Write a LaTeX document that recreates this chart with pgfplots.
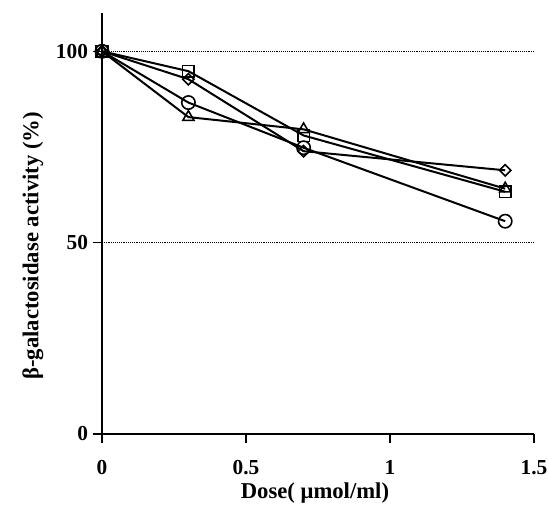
\documentclass[border=0pt]{standalone}
\usepackage{fontspec}
\setmainfont{Liberation Serif}
\usepackage{pgfplots}
\pgfplotsset{compat=1.18}

\begin{document}
\begin{tikzpicture}
\begin{axis}[
  scale only axis,
  width=324pt, height=315.75pt,
  xmin=0, xmax=1.5, ymin=0, ymax=110,
  axis x line*=bottom, axis y line*=left,
  axis line style={-, line width=1.1pt},
  xtick={0,0.5,1,1.5}, ytick={0,50,100},
  xticklabels={0,0.5,1,1.5},
  tick align=outside,
  xtick pos=bottom, ytick pos=left,
  tickwidth=7pt,
  every tick/.style={black, line width=1pt},
  ymajorgrids,
  grid style={densely dotted, line width=1pt, black},
  /pgf/number format/assume math mode=true,
  tick label style={font=\fontsize{16}{18}\selectfont\bfseries},
  xticklabel style={yshift=-9pt},
  ylabel={β-galactosidase activity (\%)},
  xlabel={Dose( μmol/ml)},
  label style={font=\fontsize{17}{19}\selectfont\bfseries},
  ylabel style={at={(axis description cs:-0.16,0.447)}, anchor=center, rotate=0},
  xlabel style={at={(axis description cs:0.493,-0.14)}, anchor=center},
  every axis plot/.append style={line width=1.5pt, black},
  clip=false,
]
% triangle
\addplot[mark=triangle, mark size=4.8pt, mark options={fill=white, line width=1.2pt}]
  coordinates {(0,100) (0.3,82.8) (0.7,79.6) (1.4,64.1)};
% square
\addplot[mark=square, mark size=4.4pt, mark options={fill=white, line width=1.2pt}]
  coordinates {(0,100) (0.3,94.8) (0.7,78.0) (1.4,63.3)};
% diamond
\addplot[mark=square, mark size=3.0pt, mark options={rotate=45, fill=white, line width=1.2pt}]
  coordinates {(0,100) (0.3,92.7) (0.7,73.9) (1.4,68.9)};
% circle
\addplot[mark=o, mark size=5pt, mark options={fill=white, line width=1.2pt}]
  coordinates {(0,100) (0.3,86.6) (0.7,74.8) (1.4,55.6)};
\end{axis}
\pgfresetboundingbox
\path[use as bounding box] (-76.5pt,-63.75pt) rectangle (335.25pt,325.5pt);
\end{tikzpicture}
\end{document}
